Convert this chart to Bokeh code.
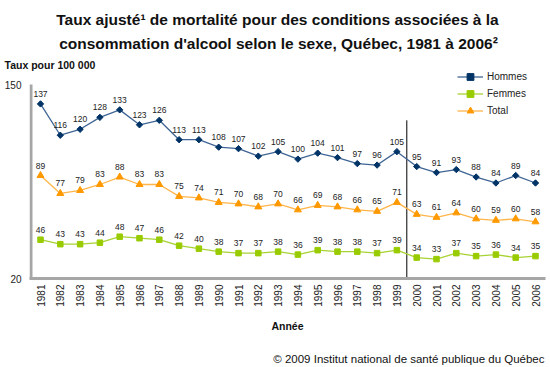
import math
from bokeh.plotting import figure
from bokeh.layouts import column
from bokeh.models import (ColumnDataSource, Range1d, FixedTicker, Legend,
                          LegendItem, Title)
from bokeh.core.properties import value
from bokeh.embed import file_html
from bokeh.resources import INLINE

years = list(range(1981, 2007))
hommes = [137, 116, 120, 128, 133, 123, 126, 113, 113, 108, 107, 102, 105, 100,
          104, 101, 97, 96, 105, 95, 91, 93, 88, 84, 89, 84]
femmes = [46, 43, 43, 44, 48, 47, 46, 42, 40, 38, 37, 37, 38, 36, 39, 38, 38,
          37, 39, 34, 33, 37, 35, 36, 34, 35]
total = [89, 77, 79, 83, 88, 83, 83, 75, 74, 71, 70, 68, 70, 66, 69, 68, 66,
         65, 71, 63, 61, 64, 60, 59, 60, 58]
y_ticks = [20, 150]
break_year = 1999.5

title_1 = "Taux ajusté¹ de mortalité pour des conditions associées à la"
title_2 = "consommation d'alcool selon le sexe, Québec, 1981 à 2006²"
y_title = "Taux pour 100 000"
x_title = "Année"
source_note = "© 2009 Institut national de santé publique du Québec"

FONT = "Liberation Sans"
W = 550
LEFT, RIGHT = 29, 5          # frame borders (shared by all stacked figures)


def blank(h):
    f = figure(width=W, height=h, output_backend="svg", toolbar_location=None,
               x_range=Range1d(LEFT, W - RIGHT), y_range=Range1d(h, 0),
               x_axis_type=None, y_axis_type=None, min_border=0,
               min_border_left=LEFT, min_border_right=RIGHT)
    f.outline_line_color = None
    f.grid.visible = False
    f.background_fill_color = "white"
    f.border_fill_color = "white"
    return f


def txt(f, s, x, y, size, bold=False, align="left", color="#111111"):
    f.text(x=[x], y=[y], text=[s], text_font=value(FONT), text_font_size=size,
           text_font_style="bold" if bold else "normal", text_align=align,
           text_baseline="middle", text_color=color)


# ---- header
header = blank(55)
txt(header, title_1, 277, 19, "15.5px", True, "center")
txt(header, title_2, 278, 43, "15.5px", True, "center")

# ---- chart
px_per_year = 19.8
x0 = years[0] - 11 / px_per_year
x1 = years[-1] + 10 / px_per_year
y_top = 150 + 14 * 130 / 194

p = figure(width=W, height=263, output_backend="svg", toolbar_location=None,
           x_range=Range1d(x0, x1), y_range=Range1d(20, y_top),
           min_border_left=LEFT, min_border_right=RIGHT, min_border_top=15,
           min_border_bottom=40)
p.background_fill_color = "white"
p.border_fill_color = "white"
p.outline_line_color = None
p.grid.visible = False
p.add_layout(Title(text=y_title, align="left", offset=-25, standoff=0,
                   text_font=FONT, text_font_size="10.5px",
                   text_font_style="bold", text_color="#111111"), "above")

for ax in (p.xaxis[0], p.yaxis[0]):
    ax.major_tick_line_color = None
    ax.minor_tick_line_color = None
    ax.major_tick_out = 0
    ax.major_tick_in = 0
    ax.minor_tick_out = 0
    ax.major_label_text_font = FONT
    ax.major_label_text_color = "#222222"

p.xaxis.axis_line_color = "#A6A6A6"
p.xaxis.axis_line_width = 3
p.xaxis.ticker = FixedTicker(ticks=years)
p.xaxis.major_label_orientation = math.pi / 2
p.xaxis.major_label_text_font_size = "10px"
p.xaxis.major_label_standoff = 6
p.yaxis.axis_line_color = None
p.yaxis.ticker = FixedTicker(ticks=y_ticks)
p.yaxis.major_label_text_font_size = "10px"
p.yaxis.major_label_standoff = 8

# left axis line (only from 20 to 150)
p.segment(x0=[x0 + 1.5 / px_per_year], y0=[y_ticks[0]],
          x1=[x0 + 1.5 / px_per_year], y1=[y_ticks[1]],
          line_color="#A6A6A6", line_width=3)

# break line between 1999 and 2000
p.segment(x0=[break_year], y0=[126], x1=[break_year], y1=[19],
          line_color="black", line_width=1)

series = [
    ("Hommes", hommes, "#3F6594", "#003366", "square", 4.5, math.pi / 4),
    ("Femmes", femmes, "#A8D334", "#99CC00", "square", 5.5, 0),
    ("Total", total, "#FFB54A", "#FF9900", "triangle", 7, 0),
]
items = []
for name, vals, lc, mc, marker, size, ang in series:
    src = ColumnDataSource(dict(x=years, y=vals, t=[str(v) for v in vals]))
    r1 = p.line("x", "y", source=src, line_color=lc, line_width=1.3)
    r2 = p.scatter("x", "y", source=src, marker=marker, size=size, angle=ang,
                   fill_color=mc, line_color=mc, line_width=1)
    p.text("x", "y", text="t", source=src, text_align="center",
           text_baseline="middle", y_offset=-10, text_font_size="8.5px",
           text_font=value(FONT), text_color="#222222")
    items.append(LegendItem(label=name, renderers=[r1, r2]))

legend = Legend(items=items, location=(428, 159), padding=0, margin=0,
                spacing=0, glyph_width=26, glyph_height=17, label_height=17,
                label_standoff=4, label_text_font=FONT,
                label_text_font_size="10px", label_text_color="#222222",
                border_line_color=None, background_fill_alpha=0)
p.add_layout(legend, "center")

# ---- footer
footer = blank(49)
txt(footer, x_title, 287, 7, "10.5px", True, "center")
txt(footer, source_note, 544, 40, "11.5px", False, "right")

layout = column(header, p, footer, spacing=0)
open("out.html", "w").write(file_html(layout, INLINE))
